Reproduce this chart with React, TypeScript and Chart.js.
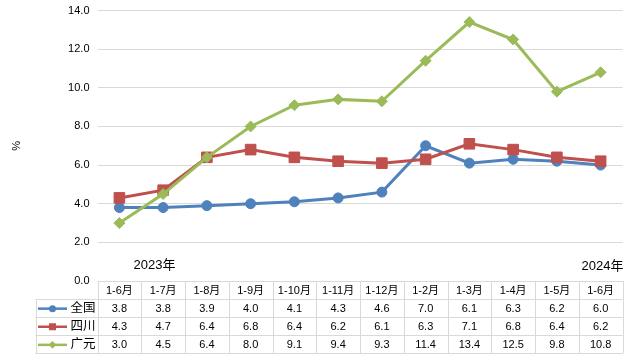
import React, { useEffect, useRef } from "react";
import { Chart, registerables } from "chart.js";

Chart.register(...registerables);

const categories = ["1-6月", "1-7月", "1-8月", "1-9月", "1-10月", "1-11月", "1-12月", "1-2月", "1-3月", "1-4月", "1-5月", "1-6月"];
const nationalValues = [3.8, 3.8, 3.9, 4.0, 4.1, 4.3, 4.6, 7.0, 6.1, 6.3, 6.2, 6.0];
const sichuanValues = [4.3, 4.7, 6.4, 6.8, 6.4, 6.2, 6.1, 6.3, 7.1, 6.8, 6.4, 6.2];
const guangyuanValues = [3.0, 4.5, 6.4, 8.0, 9.1, 9.4, 9.3, 11.4, 13.4, 12.5, 9.8, 10.8];
const seriesNames = ["全国", "四川", "广元"];
const yearLabels = ["2023年", "2024年"];
const yTitle = "%";

const BLUE = "#4F81BD";
const RED = "#C0504D";
const GREEN = "#9BBB59";
const GRID = "#D9D9D9";
const FONT = '"Liberation Sans", "Noto Sans CJK SC", sans-serif';

const tablePlugin = {
  id: "dataTable",
  afterDraw(chart: any) {
    const ctx = chart.ctx;
    const area = chart.chartArea;
    const xs = chart.scales.x;
    const n = categories.length;
    const colW = (area.right - area.left) / n;
    const rowH = 18.1;
    const top = area.bottom;
    const legendLeft = 35.5;
    const datasets = chart.data.datasets;

    ctx.save();
    ctx.strokeStyle = GRID;
    ctx.lineWidth = 1;
    for (let r = 0; r <= 4; r++) {
      const y = Math.round(top + r * rowH) + 0.5;
      ctx.beginPath();
      ctx.moveTo(r === 0 ? area.left : legendLeft, y);
      ctx.lineTo(area.right, y);
      ctx.stroke();
    }
    for (let c = 0; c <= n; c++) {
      const x = Math.round(area.left + c * colW) + 0.5;
      ctx.beginPath();
      ctx.moveTo(x, Math.round(top));
      ctx.lineTo(x, Math.round(top + 4 * rowH) + 0.5);
      ctx.stroke();
    }
    const lx = Math.round(legendLeft) + 0.5;
    ctx.beginPath();
    ctx.moveTo(lx, Math.round(top + rowH));
    ctx.lineTo(lx, Math.round(top + 4 * rowH) + 0.5);
    ctx.stroke();

    ctx.fillStyle = "#000";
    ctx.textAlign = "center";
    ctx.textBaseline = "middle";
    ctx.font = `11px ${FONT}`;
    for (let c = 0; c < n; c++) {
      const x = xs.getPixelForValue(c);
      ctx.fillText(categories[c], x, top + rowH / 2 + 1);
    }
    const valueArrays = [nationalValues, sichuanValues, guangyuanValues];
    const colors = [BLUE, RED, GREEN];
    for (let r = 0; r < 3; r++) {
      const cy = top + (r + 1) * rowH + rowH / 2 + 0.5;
      ctx.font = `11px ${FONT}`;
      ctx.textAlign = "center";
      ctx.fillStyle = "#000";
      for (let c = 0; c < n; c++) {
        const x = xs.getPixelForValue(c);
        ctx.fillText(valueArrays[r][c].toFixed(1), x, cy);
      }
      ctx.strokeStyle = colors[r];
      ctx.lineWidth = 2.5;
      ctx.beginPath();
      ctx.moveTo(38, cy);
      ctx.lineTo(67, cy);
      ctx.stroke();
      ctx.fillStyle = colors[r];
      const mx = 52.5;
      ctx.beginPath();
      if (r === 0) ctx.arc(mx, cy, 3.5, 0, Math.PI * 2);
      else if (r === 1) ctx.rect(mx - 3.5, cy - 3.5, 7, 7);
      else {
        const rad = 3.8;
        ctx.moveTo(mx, cy - rad);
        ctx.lineTo(mx + rad, cy);
        ctx.lineTo(mx, cy + rad);
        ctx.lineTo(mx - rad, cy);
        ctx.closePath();
      }
      ctx.fill();
      ctx.fillStyle = "#000";
      ctx.textAlign = "left";
      ctx.font = `12.5px ${FONT}`;
      ctx.fillText(datasets[r].label, 70.5, cy);
    }

    ctx.fillStyle = "#000";
    ctx.font = `13px ${FONT}`;
    ctx.textAlign = "center";
    ctx.fillText(yearLabels[0], 154.5, 265.5);
    ctx.textAlign = "right";
    ctx.fillText(yearLabels[1], 623.5, 266.5);
    ctx.restore();
  },
};

export default function App() {
  const ref = useRef<HTMLCanvasElement | null>(null);
  useEffect(() => {
    if (!ref.current) return;
    const chart = new Chart(ref.current, {
      type: "line",
      data: {
        labels: categories,
        datasets: [
          {
            label: seriesNames[0],
            data: nationalValues,
            borderColor: BLUE,
            backgroundColor: BLUE,
            borderWidth: 3,
            pointStyle: "circle",
            pointRadius: 5,
            pointBorderWidth: 1,
            order: 3,
          },
          {
            label: seriesNames[1],
            data: sichuanValues,
            borderColor: RED,
            backgroundColor: RED,
            borderWidth: 3,
            pointStyle: "rect",
            pointRadius: 7.5,
            pointBorderWidth: 1,
            order: 2,
          },
          {
            label: seriesNames[2],
            data: guangyuanValues,
            borderColor: GREEN,
            backgroundColor: GREEN,
            borderWidth: 3,
            pointStyle: "rectRot",
            pointRadius: 5.5,
            pointBorderWidth: 1,
            order: 1,
          },
        ],
      },
      options: {
        responsive: false,
        animation: false,
        layout: { padding: { left: 0, right: 12.5, top: 10.5, bottom: 81 } },
        plugins: { legend: { display: false }, tooltip: { enabled: false } },
        scales: {
          x: {
            display: false,
            offset: true,
          },
          y: {
            min: 0,
            max: 14,
            afterFit: (scale: any) => {
              scale.width = 97.5;
              scale.paddingTop = 0;
              scale.paddingBottom = 0;
            },
            ticks: {
              stepSize: 2,
              padding: 8,
              color: "#000",
              font: { family: FONT, size: 11 },
              callback: (v: any) => Number(v).toFixed(1),
            },
            grid: { color: GRID, drawTicks: false, lineWidth: 1 },
            border: { display: false },
            title: {
              display: true,
              text: yTitle,
              color: "#000",
              font: { family: FONT, size: 11 },
              padding: { top: 10, bottom: 0 },
            },
          },
        },
      },
      plugins: [tablePlugin],
    });
    return () => chart.destroy();
  }, []);
  return (
    <div style={{ position: "fixed", left: 0, top: 0, width: 635, height: 362, background: "#fff" }}>
      <canvas ref={ref} width={635} height={362} style={{ display: "block" }} />
    </div>
  );
}
